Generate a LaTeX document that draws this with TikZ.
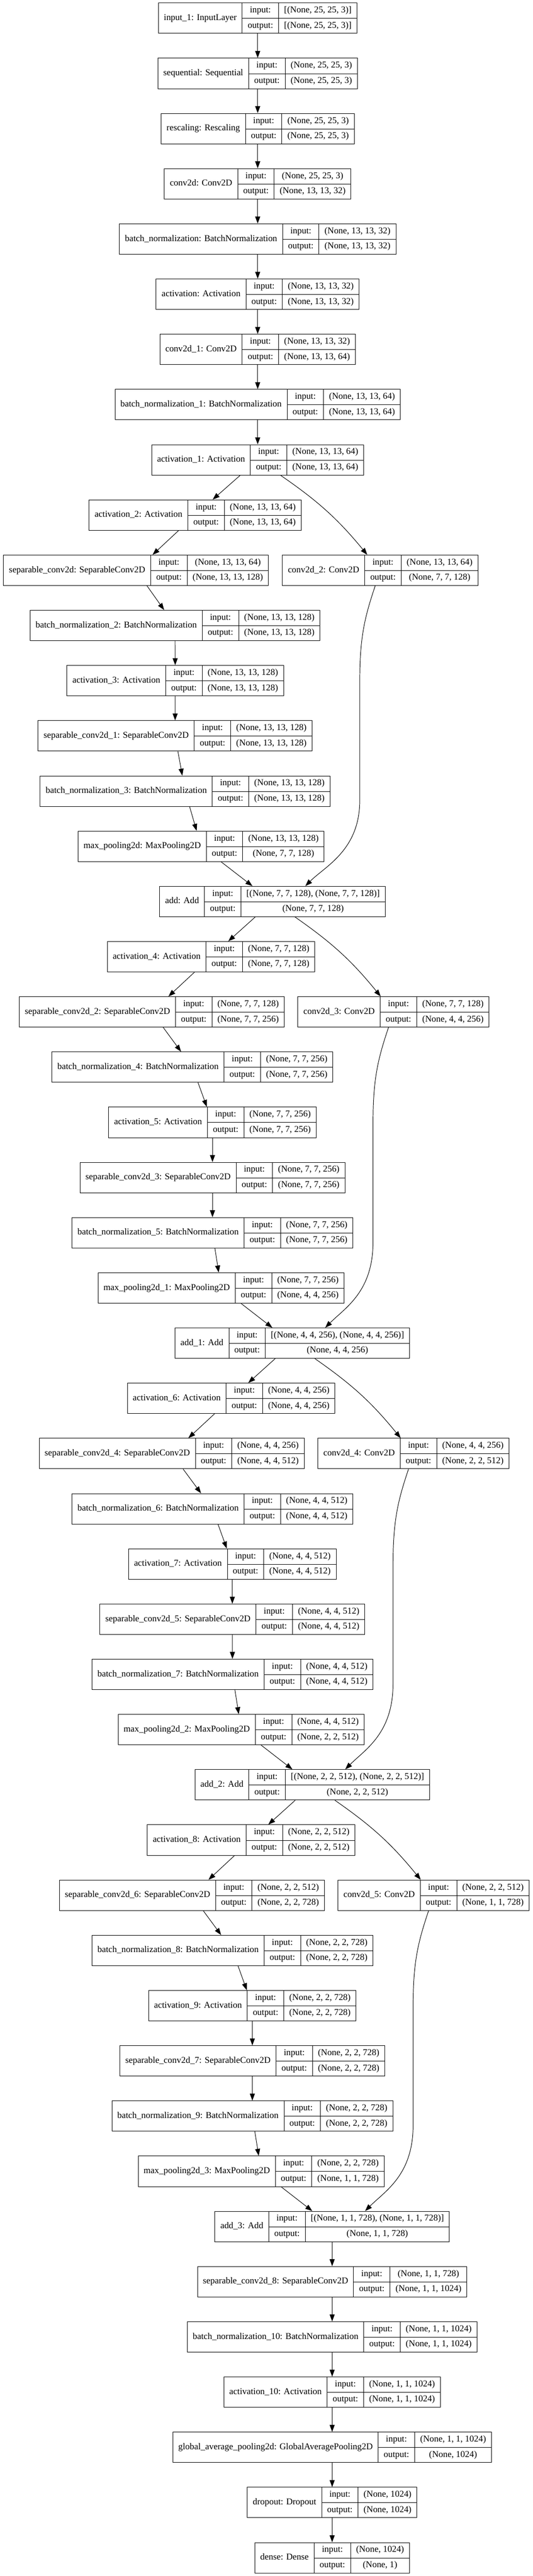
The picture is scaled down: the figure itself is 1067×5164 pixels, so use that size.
\documentclass[tikz,border=0pt]{standalone}
\usepackage{fontspec}
\setmainfont{Liberation Serif}
\usetikzlibrary{arrows.meta}
\setlength\tabcolsep{11pt}
\setlength\arrayrulewidth{1pt}
\newcommand\rs{\rule[-11pt]{0pt}{30.5pt}}
\newcommand\lyr[3]{\begin{tabular}{c|c|c}\raisebox{-15.25pt}[0pt][0pt]{#1} & input: & #2\rs\\ \cline{2-3} & output: & #3\rs\end{tabular}}

\begin{document}
\begin{tikzpicture}[x=1pt, y=1pt,
		rec/.style={draw, line width=1pt, inner sep=0pt, font=\fontsize{18pt}{21pt}\selectfont},
		conn/.style={line width=1pt, -{Triangle[length=14pt, width=10pt]}}]
		\path[use as bounding box, fill=white] (0,0) rectangle (1067,-5164);
		\node [rec] (in1) at (516.3,-36.5) {\lyr{input\_1: InputLayer}{[(None, 25, 25, 3)]}{[(None, 25, 25, 3)]}};
		\node [rec] (seq) at (516.3,-147.17) {\lyr{sequential: Sequential}{(None, 25, 25, 3)}{(None, 25, 25, 3)}};
		\node [rec] (resc) at (516.3,-257.84) {\lyr{rescaling: Rescaling}{(None, 25, 25, 3)}{(None, 25, 25, 3)}};
		\node [rec] (cv) at (516.3,-368.51) {\lyr{conv2d: Conv2D}{(None, 25, 25, 3)}{(None, 13, 13, 32)}};
		\node [rec] (bn) at (516.3,-479.18) {\lyr{batch\_normalization: BatchNormalization}{(None, 13, 13, 32)}{(None, 13, 13, 32)}};
		\node [rec] (act) at (516.3,-589.85) {\lyr{activation: Activation}{(None, 13, 13, 32)}{(None, 13, 13, 32)}};
		\node [rec] (cv1) at (516.3,-700.52) {\lyr{conv2d\_1: Conv2D}{(None, 13, 13, 32)}{(None, 13, 13, 64)}};
		\node [rec] (bn1) at (516.3,-811.19) {\lyr{batch\_normalization\_1: BatchNormalization}{(None, 13, 13, 64)}{(None, 13, 13, 64)}};
		\node [rec] (act1) at (516.3,-921.86) {\lyr{activation\_1: Activation}{(None, 13, 13, 64)}{(None, 13, 13, 64)}};
		% block 1
		\node [rec] (act2) at (391.0,-1032.53) {\lyr{activation\_2: Activation}{(None, 13, 13, 64)}{(None, 13, 13, 64)}};
		\node [rec] (sep) at (272.5,-1143.2) {\lyr{separable\_conv2d: SeparableConv2D}{(None, 13, 13, 64)}{(None, 13, 13, 128)}};
		\node [rec] (cv2) at (761.8,-1143.2) {\lyr{conv2d\_2: Conv2D}{(None, 13, 13, 64)}{(None, 7, 7, 128)}};
		\node [rec] (bn2) at (350.8,-1253.87) {\lyr{batch\_normalization\_2: BatchNormalization}{(None, 13, 13, 128)}{(None, 13, 13, 128)}};
		\node [rec] (act3) at (351.1,-1364.54) {\lyr{activation\_3: Activation}{(None, 13, 13, 128)}{(None, 13, 13, 128)}};
		\node [rec] (sep1) at (350.8,-1475.21) {\lyr{separable\_conv2d\_1: SeparableConv2D}{(None, 13, 13, 128)}{(None, 13, 13, 128)}};
		\node [rec] (bn3) at (370.9,-1585.88) {\lyr{batch\_normalization\_3: BatchNormalization}{(None, 13, 13, 128)}{(None, 13, 13, 128)}};
		\node [rec] (mp) at (402.9,-1696.55) {\lyr{max\_pooling2d: MaxPooling2D}{(None, 13, 13, 128)}{(None, 7, 7, 128)}};
		\node [rec] (add) at (545.8,-1807.22) {\lyr{add: Add}{[(None, 7, 7, 128), (None, 7, 7, 128)]}{(None, 7, 7, 128)}};
		% block 2
		\node [rec] (act4) at (422.9,-1917.89) {\lyr{activation\_4: Activation}{(None, 7, 7, 128)}{(None, 7, 7, 128)}};
		\node [rec] (sep2) at (304.2,-2028.56) {\lyr{separable\_conv2d\_2: SeparableConv2D}{(None, 7, 7, 128)}{(None, 7, 7, 256)}};
		\node [rec] (cv3) at (788.4,-2028.56) {\lyr{conv2d\_3: Conv2D}{(None, 7, 7, 128)}{(None, 4, 4, 256)}};
		\node [rec] (bn4) at (385.5,-2139.23) {\lyr{batch\_normalization\_4: BatchNormalization}{(None, 7, 7, 256)}{(None, 7, 7, 256)}};
		\node [rec] (act5) at (425.7,-2249.9) {\lyr{activation\_5: Activation}{(None, 7, 7, 256)}{(None, 7, 7, 256)}};
		\node [rec] (sep3) at (425.7,-2360.57) {\lyr{separable\_conv2d\_3: SeparableConv2D}{(None, 7, 7, 256)}{(None, 7, 7, 256)}};
		\node [rec] (bn5) at (425.7,-2471.24) {\lyr{batch\_normalization\_5: BatchNormalization}{(None, 7, 7, 256)}{(None, 7, 7, 256)}};
		\node [rec] (mp1) at (443.0,-2581.91) {\lyr{max\_pooling2d\_1: MaxPooling2D}{(None, 7, 7, 256)}{(None, 4, 4, 256)}};
		\node [rec] (add1) at (585.6,-2692.58) {\lyr{add\_1: Add}{[(None, 4, 4, 256), (None, 4, 4, 256)]}{(None, 4, 4, 256)}};
		% block 3
		\node [rec] (act6) at (463.1,-2803.25) {\lyr{activation\_6: Activation}{(None, 4, 4, 256)}{(None, 4, 4, 256)}};
		\node [rec] (sep4) at (344.0,-2913.92) {\lyr{separable\_conv2d\_4: SeparableConv2D}{(None, 4, 4, 256)}{(None, 4, 4, 512)}};
		\node [rec] (cv4) at (828.5,-2913.92) {\lyr{conv2d\_4: Conv2D}{(None, 4, 4, 256)}{(None, 2, 2, 512)}};
		\node [rec] (bn6) at (425.7,-3024.59) {\lyr{batch\_normalization\_6: BatchNormalization}{(None, 4, 4, 512)}{(None, 4, 4, 512)}};
		\node [rec] (act7) at (465.5,-3135.26) {\lyr{activation\_7: Activation}{(None, 4, 4, 512)}{(None, 4, 4, 512)}};
		\node [rec] (sep5) at (465.5,-3245.93) {\lyr{separable\_conv2d\_5: SeparableConv2D}{(None, 4, 4, 512)}{(None, 4, 4, 512)}};
		\node [rec] (bn7) at (465.8,-3356.6) {\lyr{batch\_normalization\_7: BatchNormalization}{(None, 4, 4, 512)}{(None, 4, 4, 512)}};
		\node [rec] (mp2) at (483.2,-3467.27) {\lyr{max\_pooling2d\_2: MaxPooling2D}{(None, 4, 4, 512)}{(None, 2, 2, 512)}};
		\node [rec] (add2) at (625.7,-3577.94) {\lyr{add\_2: Add}{[(None, 2, 2, 512), (None, 2, 2, 512)]}{(None, 2, 2, 512)}};
		% block 4
		\node [rec] (act8) at (503.2,-3688.61) {\lyr{activation\_8: Activation}{(None, 2, 2, 512)}{(None, 2, 2, 512)}};
		\node [rec] (sep6) at (384.5,-3799.28) {\lyr{separable\_conv2d\_6: SeparableConv2D}{(None, 2, 2, 512)}{(None, 2, 2, 728)}};
		\node [rec] (cv5) at (868.7,-3799.28) {\lyr{conv2d\_5: Conv2D}{(None, 2, 2, 512)}{(None, 1, 1, 728)}};
		\node [rec] (bn8) at (465.8,-3909.95) {\lyr{batch\_normalization\_8: BatchNormalization}{(None, 2, 2, 728)}{(None, 2, 2, 728)}};
		\node [rec] (act9) at (505.6,-4020.62) {\lyr{activation\_9: Activation}{(None, 2, 2, 728)}{(None, 2, 2, 728)}};
		\node [rec] (sep7) at (505.6,-4131.29) {\lyr{separable\_conv2d\_7: SeparableConv2D}{(None, 2, 2, 728)}{(None, 2, 2, 728)}};
		\node [rec] (bn9) at (505.6,-4241.96) {\lyr{batch\_normalization\_9: BatchNormalization}{(None, 2, 2, 728)}{(None, 2, 2, 728)}};
		\node [rec] (mp3) at (523.3,-4352.63) {\lyr{max\_pooling2d\_3: MaxPooling2D}{(None, 2, 2, 728)}{(None, 1, 1, 728)}};
		\node [rec] (add3) at (665.5,-4463.3) {\lyr{add\_3: Add}{[(None, 1, 1, 728), (None, 1, 1, 728)]}{(None, 1, 1, 728)}};
		% head
		\node [rec] (sep8) at (665.5,-4573.97) {\lyr{separable\_conv2d\_8: SeparableConv2D}{(None, 1, 1, 728)}{(None, 1, 1, 1024)}};
		\node [rec] (bn10) at (665.5,-4684.64) {\lyr{batch\_normalization\_10: BatchNormalization}{(None, 1, 1, 1024)}{(None, 1, 1, 1024)}};
		\node [rec] (act10) at (665.5,-4795.31) {\lyr{activation\_10: Activation}{(None, 1, 1, 1024)}{(None, 1, 1, 1024)}};
		\node [rec] (gap) at (665.5,-4905.98) {\lyr{global\_average\_pooling2d: GlobalAveragePooling2D}{(None, 1, 1, 1024)}{(None, 1024)}};
		\node [rec] (drop) at (665.5,-5016.65) {\lyr{dropout: Dropout}{(None, 1024)}{(None, 1024)}};
		\node [rec] (dense) at (665.5,-5127.32) {\lyr{dense: Dense}{(None, 1024)}{(None, 1)}};
		\foreach \src/\dst in {in1/seq, seq/resc, resc/cv, cv/bn, bn/act, act/cv1, cv1/bn1, bn1/act1,
				act1/act2, act2/sep, sep/bn2, bn2/act3, act3/sep1, sep1/bn3, bn3/mp, mp/add,
				add/act4, act4/sep2, sep2/bn4, bn4/act5, act5/sep3, sep3/bn5, bn5/mp1, mp1/add1,
				add1/act6, act6/sep4, sep4/bn6, bn6/act7, act7/sep5, sep5/bn7, bn7/mp2, mp2/add2,
				add2/act8, act8/sep6, sep6/bn8, bn8/act9, act9/sep7, sep7/bn9, bn9/mp3, mp3/add3,
				add3/sep8, sep8/bn10, bn10/act10, act10/gap, gap/drop, drop/dense}
			\draw[conn] (\src) -- (\dst);
		\foreach \src/\dst in {act1/cv2, add/cv3, add1/cv4, add2/cv5}
			\draw[conn] (\src) to[bend left=8] (\dst);
		% shortcuts into the adds
		\foreach \src/\dst in {cv2/add, cv3/add1, cv4/add2, cv5/add3}
			\draw[conn] ([xshift=-10pt]\src.south) .. controls +(-20,-60) and +(0,90) .. ([xshift=-41pt, yshift=-190pt]\src.south)
				-- ([xshift=-41pt, yshift=-430pt]\src.south) .. controls +(0,-100) and +(40,40) .. ([xshift=66pt]\dst.north);
\end{tikzpicture}
\end{document}
